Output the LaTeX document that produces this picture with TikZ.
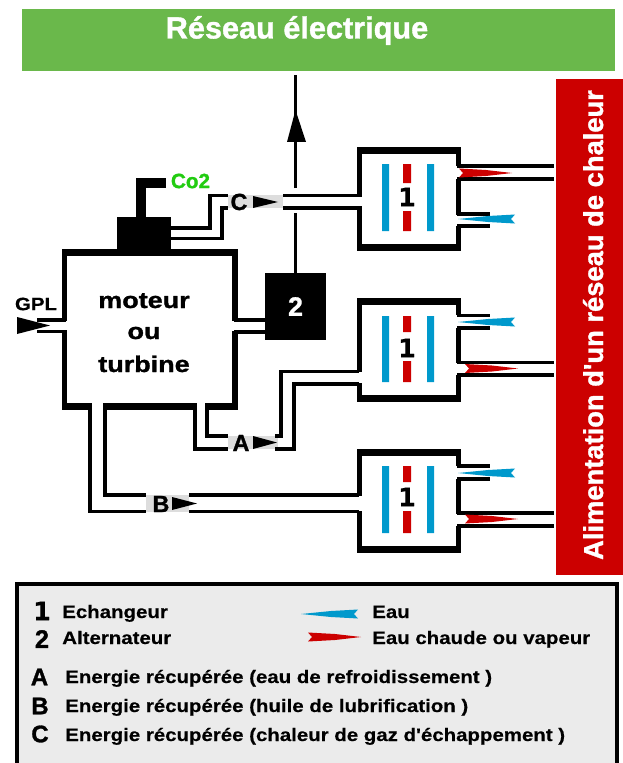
\documentclass[tikz,border=0pt]{standalone}
\usepackage{fontspec}
\setmainfont{Liberation Sans}
\newfontfamily\heavyf[BoldFont={Liberation Sans Bold},BoldFeatures={FakeBold=1.2}]{Liberation Sans}
\newfontfamily\widef[BoldFont={Liberation Sans Bold},BoldFeatures={FakeBold=1.2,FakeStretch=1.19}]{Liberation Sans}
\newfontfamily\legf[BoldFont={Liberation Sans Bold},BoldFeatures={FakeBold=0.4,FakeStretch=1.135}]{Liberation Sans}
\newfontfamily\digitf[BoldFont={DejaVu Sans Bold},BoldFeatures={FakeBold=0.6}]{DejaVu Sans}
\definecolor{netgreen}{HTML}{6AB84B}
\definecolor{heatred}{HTML}{CC0000}
\definecolor{waterblue}{HTML}{0099CC}
\definecolor{legendgray}{HTML}{EBEBEB}
\definecolor{bandgray}{HTML}{DDDDDD}
\definecolor{cotwo}{HTML}{22CC11}
\newcommand{\hotarrow}[2]{% tip to the right, notched tail at left
  \fill[heatred] (#1,#2) ++(0,-4.5) -- ++(27,1.5) -- ++(26,3) -- ++(-26,3) -- ++(-27,1.5) -- ++(4,-4.5) -- cycle;}
\newcommand{\coldarrow}[2]{% tip to the left, notched tail at right
  \fill[waterblue] (#1,#2) ++(0,-4.5) -- ++(-27,1.5) -- ++(-30,3) -- ++(30,3) -- ++(27,1.5) -- ++(-4,-4.5) -- cycle;}
\tikzset{
  wall/.style={line width=5pt*0.75,line cap=butt,line join=miter},
  capwall/.style={line width=7pt*0.75},
  pipe/.style={line width=3.4pt*0.75,line join=miter},
  label/.style={inner sep=0pt},
  bar/.style={fill=waterblue},
  reddash/.style={fill=heatred},
  band/.style={fill=bandgray},
  flowtip/.style={fill=black},
  letterf/.style={label,font=\heavyf\bfseries\fontsize{17.5}{20}\selectfont},
  enginef/.style={label,font=\widef\bfseries\fontsize{17}{20}\selectfont},
  digit/.style={label,font=\digitf\bfseries\fontsize{19}{20}\selectfont},
  legtext/.style={anchor=base west,inner sep=0pt,font=\legf\bfseries\fontsize{13.5}{15}\selectfont},
  legkey/.style={anchor=center,inner sep=0pt,font=\heavyf\bfseries\fontsize{18}{20}\selectfont},
}
\begin{document}
\begin{tikzpicture}[x=0.75pt,y=-0.75pt]
\useasboundingbox (0,0) rectangle (623,763);
% banners
\fill[netgreen] (22,9) rectangle (615,71);
\node[label,anchor=base,text=white,font=\heavyf\bfseries\fontsize{23}{26}\selectfont] (title) at (297,38.5) {Réseau électrique};
\fill[heatred] (556,79) rectangle (623,575);
\node[label,anchor=base,text=white,rotate=90,font=\heavyf\bfseries\fontsize{20.5}{24}\selectfont] (heat) at (603,325) {Alimentation d'un réseau de chaleur};
% legend
\fill[legendgray] (17,584) rectangle (617,763);
\draw[line width=3.5pt*0.75] (17,763) -- (17,584) -- (617,584) -- (617,763);
% grey bands under labels
\fill[band] (228,195) rectangle (283,208);
\fill[band] (228,436) rectangle (278,449);
\fill[band] (146,495) rectangle (189,512);
% alternator and exhaust block
\node[fill=black,minimum width=45.75pt,minimum height=50.25pt,inner sep=0pt,text=white,font=\heavyf\bfseries\fontsize{20}{22}\selectfont] (alt) at (295.5,306.5) {2};
\node[fill=black,minimum width=40.5pt,minimum height=24.75pt,inner sep=0pt] (exh) at (144,233) {};
\coordinate (chimA) at (141,217);
\coordinate (chimB) at (141,183);
\coordinate (chimC) at (166,183);
\draw[line width=10pt*0.75] (chimA) -- (chimB) -- (chimC);
\node[label,text=cotwo,font=\heavyf\bfseries\fontsize{15.5}{18}\selectfont] (co2) at (190.5,181) {Co2};
% engine walls
\draw[line width=5.5pt*0.75] (64.5,321) -- (64.5,252.5) -- (235,252.5) -- (235,321);
\draw[line width=5.5pt*0.75] (64.5,330) -- (64.5,406.5) -- (92,406.5);
\draw[line width=5.5pt*0.75] (235,331) -- (235,406.5) -- (206,406.5);
\draw[line width=7pt*0.75] (62,406.5) -- (92,406.5) (103,406.5) -- (197,406.5) (205,406.5) -- (238,406.5) (62,252.5) -- (238,252.5);
\node[enginef,anchor=base] (m1) at (144,308) {moteur};
\node[enginef,anchor=base] (m2) at (144,339) {ou};
\node[enginef,anchor=base] (m3) at (144,372) {turbine};
% GPL
\node[label,font=\legf\bfseries\fontsize{13.5}{15}\selectfont] (gpl) at (36,304) {GPL};
\draw[pipe] (37,320) -- (66,320) (37,331.5) -- (66,331.5);
\fill[flowtip] (17,317) -- (50,325.5) -- (17,334) -- cycle;
% engine to alternator
\draw[pipe] (234,320) -- (alt.west |- 0,320) (234,332) -- (alt.west |- 0,332);
% output to grid
\draw[line width=3.6pt*0.75] (alt.north) -- ++(0,-60);
\coordinate (gridA) at (295.5,188);
\coordinate (gridB) at (295.5,75);
\draw[line width=3.6pt*0.75] (gridA) -- (gridB);
\fill[flowtip] (295.5,110) -- (306,142) -- (287,142) -- cycle;
% pipe C
\draw[pipe] (exh.east |- 0,228) -- (210,228) -- (210,195.5) -- (228,195.5);
\draw[pipe] (exh.east |- 0,238.5) -- (222,238.5) -- (222,208) -- (228,208);
\draw[pipe] (283,195.5) -- (359,195.5) (283,208) -- (359,208);
\node[letterf] (C) at (239,202) {C};
\fill[flowtip] (253,196) -- (278,202) -- (253,208) -- cycle;
% pipe A
\draw[pipe] (207,408) -- (207,436) -- (228,436);
\draw[pipe] (195,408) -- (195,449) -- (228,449);
\draw[pipe] (275,436) -- (281,436) -- (281,371.5) -- (359,371.5);
\draw[pipe] (275,449) -- (294,449) -- (294,384) -- (359,384);
\node[letterf] (A) at (241,443) {A};
\fill[flowtip] (253,436) -- (277,442.5) -- (253,449) -- cycle;
% pipe B
\draw[pipe] (90,404) -- (90,511.5) -- (146,511.5);
\draw[pipe] (105,404) -- (105,495) -- (146,495);
\draw[pipe] (189,495) -- (359,495) (189,511.5) -- (359,511.5);
\node[letterf] (B) at (161,504) {B};
\fill[flowtip] (172,497) -- (197,503.5) -- (172,510) -- cycle;
% exchanger 1 (top 147)
\draw[wall] (458.5,166) -- (458.5,150.5) -- (359.5,150.5) -- (359.5,197);
\draw[wall] (359.5,206) -- (359.5,247) -- (458.5,247) -- (458.5,226);
\draw[wall] (458.5,179) -- (458.5,214.5);
\draw[capwall] (357,150.5) -- (461,150.5) (357,247) -- (461,247);
\draw[pipe] (457,166) -- (554,166) (457,179) -- (554,179);
\draw[pipe] (457,214) -- (490,214) (457,226) -- (490,226);
\hotarrow{459}{173}
\coldarrow{515}{219}
\fill[bar] (382,164) rectangle (389,231) (427,164) rectangle (434,231);
\fill[reddash] (403,164) rectangle (411,183) (403,211) rectangle (411,231);
\node[digit] (n1) at (407,197) {1};
% exchanger 2 (top 298)
\draw[wall] (458.5,315) -- (458.5,301.5) -- (359.5,301.5) -- (359.5,372);
\draw[wall] (359.5,383) -- (359.5,398.5) -- (458.5,398.5) -- (458.5,375);
\draw[wall] (458.5,328) -- (458.5,362.5);
\draw[capwall] (357,301.5) -- (461,301.5) (357,398.5) -- (461,398.5);
\draw[pipe] (457,315.5) -- (490,315.5) (457,328) -- (490,328);
\draw[pipe] (457,362.5) -- (554,362.5) (457,375) -- (554,375);
\coldarrow{515}{322}
\hotarrow{465}{368.5}
\fill[bar] (382,316) rectangle (389,382) (427,316) rectangle (434,382);
\fill[reddash] (403,316) rectangle (411,332) (403,361) rectangle (411,382);
\node[digit] (n2) at (407,348) {1};
% exchanger 3 (top 449)
\draw[wall] (458.5,466) -- (458.5,452) -- (359.5,452) -- (359.5,496);
\draw[wall] (359.5,511) -- (359.5,549) -- (458.5,549) -- (458.5,526);
\draw[wall] (458.5,479) -- (458.5,514);
\draw[capwall] (357,452) -- (461,452) (357,549) -- (461,549);
\draw[pipe] (457,466) -- (490,466) (457,479) -- (490,479);
\draw[pipe] (457,513) -- (554,513) (457,526) -- (554,526);
\coldarrow{515}{473}
\hotarrow{465}{519}
\fill[bar] (382,466) rectangle (389,533) (427,466) rectangle (434,533);
\fill[reddash] (403,466) rectangle (411,482) (403,511) rectangle (411,533);
\node[digit] (n3) at (407,497) {1};
% legend content
\node[digit] (k1) at (42,611) {1};
\node[legkey,font=\heavyf\bfseries\fontsize{19}{20}\selectfont] (k2) at (42,639) {2};
\node[legkey] (kA) at (39.5,677) {A};
\node[legkey] (kB) at (40,706) {B};
\node[legkey] (kC) at (40,734) {C};
\node[legtext] (t1) at (62,618) {Echangeur};
\node[legtext] (t2) at (62,644) {Alternateur};
\node[legtext] (t3) at (372,618) {Eau};
\node[legtext] (t4) at (372,644) {Eau chaude ou vapeur};
\node[legtext] (tA) at (65,683) {Energie récupérée (eau de refroidissement )};
\node[legtext] (tB) at (65,712) {Energie récupérée (huile de lubrification )};
\node[legtext] (tC) at (65,741) {Energie récupérée (chaleur de gaz d'échappement )};
\coldarrow{358}{614}
\hotarrow{308}{637}
\end{tikzpicture}
\end{document}
